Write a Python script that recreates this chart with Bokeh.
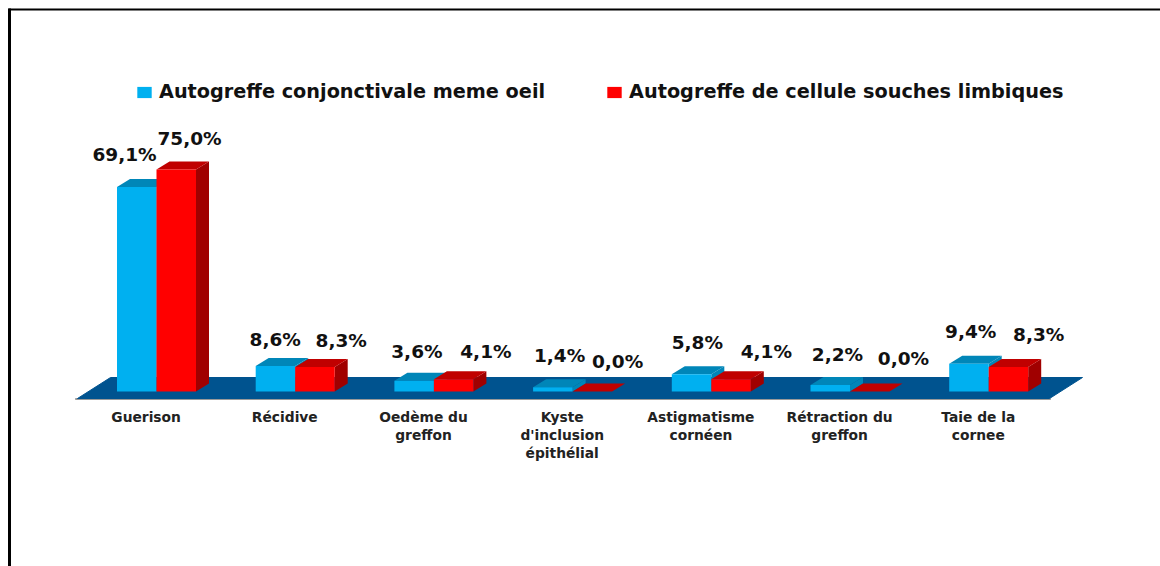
from bokeh.plotting import figure
from bokeh.embed import file_html
from bokeh.resources import INLINE
from bokeh.core.properties import value
from bokeh.models import ColumnDataSource, Range1d, Legend, LegendItem

categories = ["Guerison", "Récidive", "Oedème du\ngreffon", "Kyste\nd'inclusion\népithélial",
              "Astigmatisme\ncornéen", "Rétraction du\ngreffon", "Taie de la\ncornee"]
series_names = ["Autogreffe conjonctivale meme oeil", "Autogreffe de cellule souches limbiques"]
conj = [69.1, 8.6, 3.6, 1.4, 5.8, 2.2, 9.4]
limb = [75.0, 8.3, 4.1, 0.0, 4.1, 0.0, 8.3]

# layout, in picture pixels
W, H = 1160, 566
GROUP0, STEP = 156.0, 138.7
BASE, PX_PER_UNIT = 391.0, 2.96
BAR_PX, DX_PX, DY_PX = 39.5, 13.0, 8.0
FONT = "DejaVu Sans"

def X(px):
    return (px - GROUP0) / STEP
def Y(py):
    return (BASE - py) / PX_PER_UNIT

bw, dx, dy = BAR_PX / STEP, DX_PX / STEP, DY_PX / PX_PER_UNIT

p = figure(width=W, height=H, output_backend="svg", toolbar_location=None,
           x_range=Range1d(X(0), X(W)), y_range=Range1d(Y(H), Y(0)),
           min_border=0, outline_line_color=None)
p.axis.visible = False
p.grid.visible = False

# frame of the picture
p.line([X(9), X(9)], [Y(H), Y(8)], line_color="#000000", line_width=3)
p.line([X(8), X(W)], [Y(9), Y(9)], line_color="#000000", line_width=2)

# floor
p.patch([X(75), X(1050), X(1050), X(75)], [Y(398), Y(398), Y(399), Y(399)], color="#9a9a9a")
p.patch([X(77), X(110), X(1082), X(1049)], [Y(398), Y(377), Y(377), Y(398)], color="#00538f")

def bars(vals, offset, front, top, side):
    xs = [i + offset for i in range(len(vals))]
    l = [x for x in xs]
    r = [x + bw for x in xs]
    side_x = [[a, a + dx, a + dx, a] for a in r]
    side_y = [[0, dy, v + dy, v] for v in vals]
    top_x = [[a, b, b + dx, a + dx] for a, b in zip(l, r)]
    top_y = [[v, v, v + dy, v + dy] for v in vals]
    p.patches(side_x, side_y, color=side, line_width=0)
    p.patches(top_x, top_y, color=top, line_width=0)
    return p.quad(left=l, right=r, bottom=[0] * len(vals), top=vals, color=front, line_width=0)

b1 = bars(conj, -bw, "#00b0f0", "#0086b8", "#0086b8")
b2 = bars(limb, 0, "#ff0000", "#c00000", "#a00000")

# value labels (pixel offsets from group centre / bar top)
lab_x = [-32, -20, -17, -13, -14, -12.5, -18]
lab_y = [-32, -26.5, -29.3, -32, -32, -30.5, -32]
lab2_x = [33, 46, 52, 45, 55, 53.5, 50]
lab2_y = [-31, -26.4, -28, -30, -28, -33, -32]

def labels(vals, dxs, dys):
    src = ColumnDataSource(dict(x=list(range(len(vals))), y=vals,
                                t=[f"{v:.1f}%".replace(".", ",") for v in vals],
                                xo=dxs, yo=dys))
    p.text("x", "y", text="t", x_offset="xo", y_offset="yo", source=src, text_align="center",
           text_baseline="middle", text_font=value(FONT), text_font_size="18.5px",
           text_font_style="bold", text_color="#111111")

labels(conj, lab_x, lab_y)
labels(limb, lab2_x, lab2_y)

# category labels
xs, ys, ts = [], [], []
for i, c in enumerate(categories):
    for j, line in enumerate(c.split("\n")):
        xs.append(i - 0.075)
        ys.append(Y(416 + j * 18))
        ts.append(line)
p.text(xs, ys, text=ts, text_align="center", text_baseline="middle", text_font=value(FONT),
       text_font_size="13.8px", text_font_style="bold", text_color="#222222")

legend = Legend(items=[LegendItem(label=series_names[0], renderers=[b1]),
                       LegendItem(label=series_names[1], renderers=[b2])],
                orientation="horizontal", location=(135, H - 103), border_line_color=None,
                background_fill_alpha=0, glyph_width=18, glyph_height=14, spacing=60,
                label_standoff=6, label_text_font=FONT, label_text_font_size="19.25px",
                label_text_font_style="bold", label_text_color="#111111", margin=0, padding=3)
p.add_layout(legend, "center")

open("out.html", "w").write(file_html(p, INLINE))
